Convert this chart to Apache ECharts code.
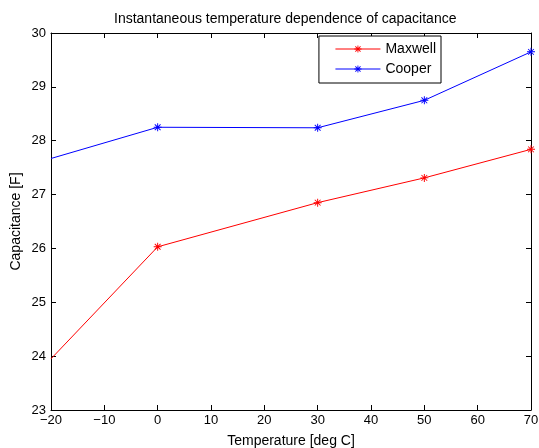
<!DOCTYPE html>
<html>
<head>
<meta charset="utf-8">
<script src="https://cdn.jsdelivr.net/npm/echarts@6/dist/echarts.min.js"></script>
<style>
  html, body { margin: 0; padding: 0; background: #fff; }
  #chart { width: 539px; height: 448px; }
</style>
</head>
<body>
<div id="chart"></div>
<script>
// Measurement temperatures (deg C) and capacitance (F) per cell maker
const temperatures = [-20, 0, 30, 50, 70];
const maxwell = [23.95, 26.03, 26.85, 27.31, 27.84];
const cooper = [27.67, 28.25, 28.24, 28.75, 29.65];

const xTicks = { min: -20, max: 70, step: 10 };
const yTicks = { min: 23, max: 30, step: 1 };

// Asterisk marker: vertical, horizontal and two diagonal bars
const asterisk = 'path://M4.4,0L5.6,0L5.6,10L4.4,10Z' +
  'M0,4.4L10,4.4L10,5.6L0,5.6Z' +
  'M1,1.8L1.8,1L9,8.2L8.2,9Z' +
  'M8.2,1L9,1.8L1.8,9L1,8.2Z';

function pairs(values) {
  return temperatures.map((t, i) => {
    const p = { value: [t, values[i]] };
    // the point sitting on the left frame edge is clipped in the original plot
    if (t === xTicks.min) p.symbolSize = 0;
    return p;
  });
}

const font = 'Liberation Sans, Arial, Helvetica, sans-serif';
const minus = v => String(v).replace('-', '\u2212');

const chart = echarts.init(document.getElementById('chart'), null, { renderer: 'canvas' });

const axisCommon = {
  axisLine: { show: true, onZero: false, lineStyle: { color: '#000', width: 1 } },
  axisTick: { show: true, inside: true, length: 5, lineStyle: { color: '#000' } },
  splitLine: { show: false }
};

chart.setOption({
  animation: false,
  backgroundColor: '#fff',
  title: {
    text: 'Instantaneous temperature dependence of capacitance',
    left: 109, top: 7,
    textStyle: { fontFamily: font, fontSize: 14, fontWeight: 'normal', color: '#000' }
  },
  legend: {
    orient: 'vertical',
    right: 98, top: 36,
    backgroundColor: '#fff',
    borderColor: '#000', borderWidth: 1, borderRadius: 0,
    padding: [5, 5, 6, 16],
    itemGap: 4,
    itemWidth: 45, itemHeight: 9,
    lineStyle: { width: 1 },
    textStyle: { fontFamily: font, fontSize: 14, color: '#000', lineHeight: 16 },
    data: ['Maxwell', 'Cooper']
  },
  grid: { left: 51, right: 8, top: 33, bottom: 38, containLabel: false, outerBoundsMode: 'none' },
  xAxis: [
    Object.assign({
      type: 'value', position: 'bottom',
      min: xTicks.min, max: xTicks.max, interval: xTicks.step,
      name: 'Temperature [deg C]', nameLocation: 'middle', nameGap: 24,
      nameMoveOverlap: false,
      nameTextStyle: { fontFamily: font, fontSize: 14, color: '#000' },
      axisLabel: { fontFamily: font, fontSize: 13, color: '#000', margin: 4, formatter: minus }
    }, axisCommon),
    Object.assign({
      type: 'value', position: 'top',
      min: xTicks.min, max: xTicks.max, interval: xTicks.step,
      axisLabel: { show: false }
    }, axisCommon)
  ],
  yAxis: [
    Object.assign({
      type: 'value', position: 'left',
      min: yTicks.min, max: yTicks.max, interval: yTicks.step,
      name: 'Capacitance [F]', nameLocation: 'middle', nameGap: 28,
      nameMoveOverlap: false,
      nameTextStyle: { fontFamily: font, fontSize: 14, color: '#000' },
      axisLabel: { fontFamily: font, fontSize: 13, color: '#000', margin: 5 }
    }, axisCommon),
    Object.assign({
      type: 'value', position: 'right',
      min: yTicks.min, max: yTicks.max, interval: yTicks.step,
      axisLabel: { show: false }
    }, axisCommon)
  ],
  series: [
    {
      name: 'Maxwell', type: 'line',
      data: pairs(maxwell),
      symbol: asterisk, symbolSize: 8, showAllSymbol: true,
      clip: true,
      lineStyle: { color: '#ff0000', width: 1 },
      itemStyle: { color: '#ff0000' }
    },
    {
      name: 'Cooper', type: 'line',
      data: pairs(cooper),
      symbol: asterisk, symbolSize: 8, showAllSymbol: true,
      clip: true,
      lineStyle: { color: '#0000ff', width: 1 },
      itemStyle: { color: '#0000ff' }
    }
  ]
});
</script>
</body>
</html>
